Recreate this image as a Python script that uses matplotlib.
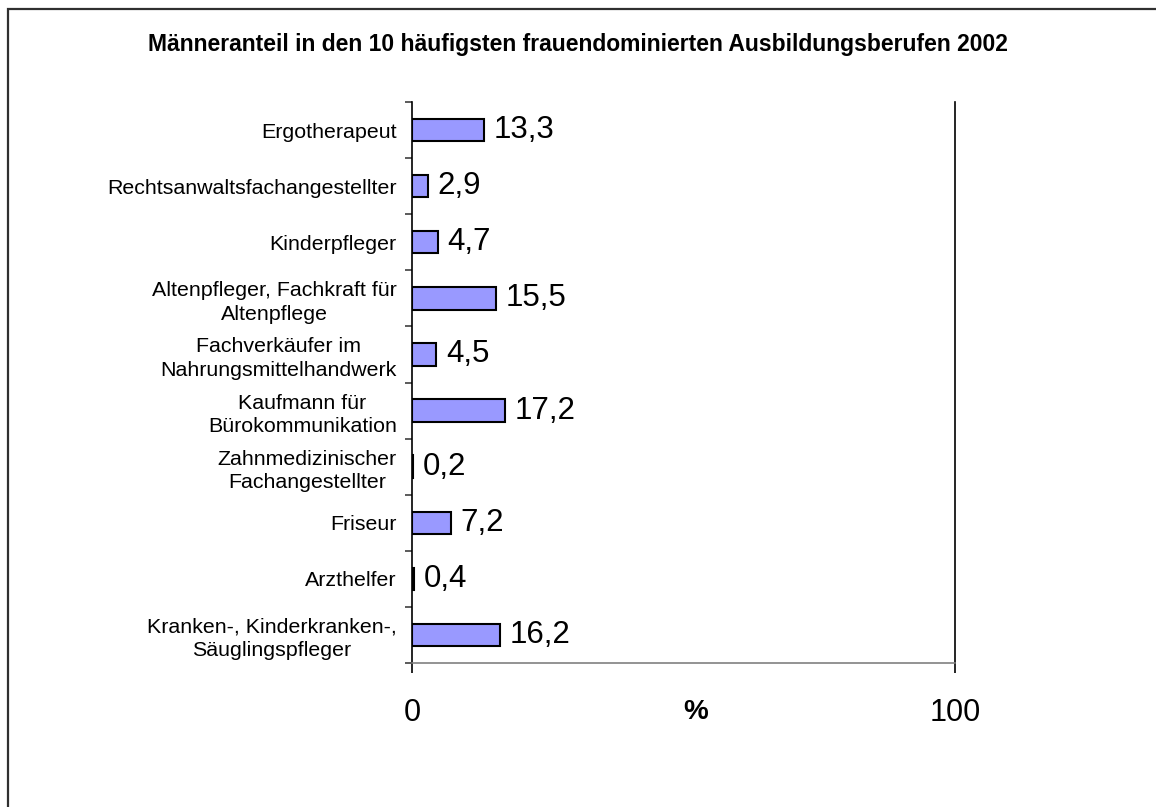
import matplotlib
matplotlib.use('Agg')
import matplotlib.pyplot as plt
from matplotlib.patches import Rectangle
from matplotlib.ticker import FixedLocator

plt.rcParams['font.family'] = ['Liberation Sans', 'DejaVu Sans']

# Daten (von oben nach unten)
berufe = [
    'Ergotherapeut',
    'Rechtsanwaltsfachangestellter',
    'Kinderpfleger',
    'Altenpfleger, Fachkraft für\nAltenpflege',
    'Fachverkäufer im\nNahrungsmittelhandwerk',
    'Kaufmann für\nBürokommunikation',
    'Zahnmedizinischer\nFachangestellter',
    'Friseur',
    'Arzthelfer',
    'Kranken-, Kinderkranken-,\nSäuglingspfleger',
]
anteil = [13.3, 2.9, 4.7, 15.5, 4.5, 17.2, 0.2, 7.2, 0.4, 16.2]
x_ticks = [0, 100]

W, H = 1156, 807
fig = plt.figure(figsize=(W / 100, H / 100), dpi=100)
ax = fig.add_axes([412 / W, 1 - 663 / H, (955 - 412) / W, (663 - 102) / H])

pos = list(range(len(berufe)))
ax.barh(pos, anteil, height=0.4, color='#9999FF', edgecolor='black', linewidth=1.5)
for p, v in zip(pos, anteil):
    ax.annotate(f'{v:.1f}'.replace('.', ','), (v, p), xytext=(7, 0),
                textcoords='offset points', va='center', ha='left', fontsize=22.5)

ax.set_xlim(0, 100)
ax.set_ylim(len(berufe) - 0.5, -0.5)

# Achsen
ax.spines['top'].set_visible(False)
ax.spines['left'].set_linewidth(1.2)
ax.spines['right'].set_linewidth(1.2)
ax.spines['bottom'].set_color('#808080')
ax.spines['bottom'].set_linewidth(1.2)

ax.set_yticks(pos)
ax.set_yticklabels(berufe, fontsize=15.4, multialignment='center', linespacing=1.3)
ax.yaxis.set_minor_locator(FixedLocator([p - 0.5 for p in pos] + [len(pos) - 0.5]))
ax.tick_params(axis='y', which='major', length=0, pad=11)
ax.tick_params(axis='y', which='minor', length=5, width=1.2, direction='out', color='#404040')

ax.set_xticks(x_ticks)
ax.set_xticklabels([str(t) for t in x_ticks], fontsize=22)
ax.tick_params(axis='x', length=7, width=1.2, pad=18)
ax.text(0.523, -0.088, '%', transform=ax.transAxes, ha='center', va='center',
        fontsize=20, fontweight='bold')

fig.text(0.5, 1 - 45 / H, 'Männeranteil in den 10 häufigsten frauendominierten Ausbildungsberufen 2002',
         ha='center', va='center', fontsize=16.5, fontweight='bold')

# Rahmen
fig.patches.append(Rectangle((7.5 / W, -0.1), 2, 1.1 - 8.5 / H, transform=fig.transFigure,
                             fill=False, edgecolor='#303030', linewidth=1.6))

fig.savefig('out.png', dpi=100)
